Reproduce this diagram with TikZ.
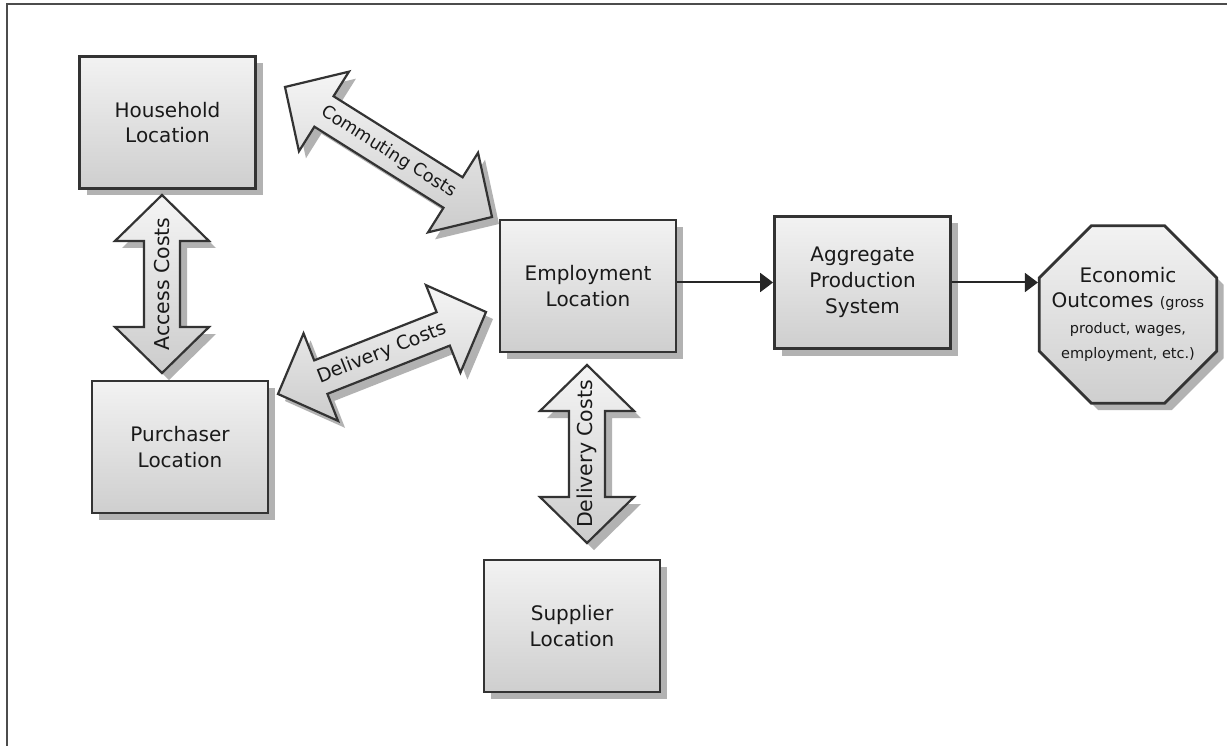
\documentclass[tikz,border=0pt]{standalone}
\usepackage{fontspec}
\setmainfont{DejaVu Sans}
\usetikzlibrary{calc,shapes.geometric,shadows,arrows.meta}

\newcommand\smalltext{\fontsize{14.5}{17}\selectfont}

\tikzset{
  boxshadow/.style={drop shadow={shadow xshift=7pt,shadow yshift=-7pt,fill=black!30,opacity=1}},
  locbox/.style={draw=black!80, line width=2.8pt, top color=black!5, bottom color=black!19,
    minimum width=176pt, minimum height=132pt, inner sep=0pt, align=center,
    font=\fontsize{20}{25.5}\selectfont, text=black!90, boxshadow},
  outcome/.style={draw=black!80, line width=2.8pt, top color=black!5, bottom color=black!19,
    regular polygon, regular polygon sides=8, minimum size=192pt, inner sep=0pt, boxshadow},
  outcometext/.style={align=center, inner sep=0pt,
    font=\fontsize{20}{25.5}\selectfont, text=black!90},
  fatarrow/.style={draw=black!80, line width=2.2pt, line join=miter,
    top color=black!4, bottom color=black!20, boxshadow},
  costlabel/.style={text=black!90, inner sep=0pt},
  flow/.style={draw=black!85, line width=2pt, -{Triangle[length=13pt,width=19pt]}},
}

% fat double-headed arrow between two points, with a label along it
\newcommand\costarrow[4]{%
  \coordinate (ca-s) at (#1);
  \coordinate (ca-e) at (#2);
  \coordinate (ca-hs) at ($(ca-s)!46pt!(ca-e)$);
  \coordinate (ca-he) at ($(ca-e)!46pt!(ca-s)$);
  \draw[fatarrow] (ca-s)
    -- ($(ca-hs)!47pt!90:(ca-e)$) -- ($(ca-hs)!18pt!90:(ca-e)$)
    -- ($(ca-he)!18pt!-90:(ca-s)$) -- ($(ca-he)!47pt!-90:(ca-s)$)
    -- (ca-e)
    -- ($(ca-he)!47pt!90:(ca-s)$) -- ($(ca-he)!18pt!90:(ca-s)$)
    -- ($(ca-hs)!18pt!-90:(ca-e)$) -- ($(ca-hs)!47pt!-90:(ca-e)$)
    -- cycle;
  \path (ca-s) -- (ca-e) node[midway, costlabel, #3] {#4};
}

\begin{document}
\begin{tikzpicture}[x=1pt, y=-1pt]
\useasboundingbox (0,0) rectangle (1227,746);
\clip (0,0) rectangle (1227,746);
\fill[white] (0,0) rectangle (1227,746);
\draw[black!70, line width=1.6pt] (7,4) rectangle (1300,800);

% locations
\node[locbox] (household) at (167.5,122.5) {Household\\Location};
\node[locbox] (purchaser) at (180,447) {Purchaser\\Location};
\node[locbox] (employment) at (588,286) {Employment\\Location};
\node[locbox] (supplier) at (572,626) {Supplier\\Location};
\node[locbox, font=\fontsize{20}{26}\selectfont] (aggregate) at (862.5,282.5) {Aggregate\\Production\\System};

% outcomes octagon and its text
\node[outcome] (outcomes) at (1128,314.5) {};
\node[outcometext] (outcomes-text) at (outcomes.center)
  {Economic\\Outcomes {\smalltext(gross}\\{\smalltext product, wages,}\\{\smalltext employment, etc.)}};

% end points of the cost arrows
\coordinate (commute-a) at (285,87);
\coordinate (commute-b) at (492,217);
\coordinate (deliver-a) at (278,394);
\coordinate (deliver-b) at (486,312);
\coordinate (access-a) at (162,373);
\coordinate (access-b) at (162,195);
\coordinate (supply-a) at (587,543);
\coordinate (supply-b) at (587,365);

\costarrow{commute-a}{commute-b}{sloped, font=\fontsize{17.5}{20}\selectfont}{Commuting Costs}
\costarrow{deliver-a}{deliver-b}{sloped, font=\fontsize{19}{22}\selectfont}{Delivery Costs}
\costarrow{access-a}{access-b}{rotate=90, font=\fontsize{20.5}{23}\selectfont}{Access Costs}
\costarrow{supply-a}{supply-b}{rotate=90, font=\fontsize{20.5}{23}\selectfont}{Delivery Costs}

% production flow
\draw[flow] (employment.east |- aggregate.west) -- (aggregate.west);
\draw[flow] (aggregate.east) -- (aggregate.east -| outcomes.west);
\end{tikzpicture}
\end{document}
